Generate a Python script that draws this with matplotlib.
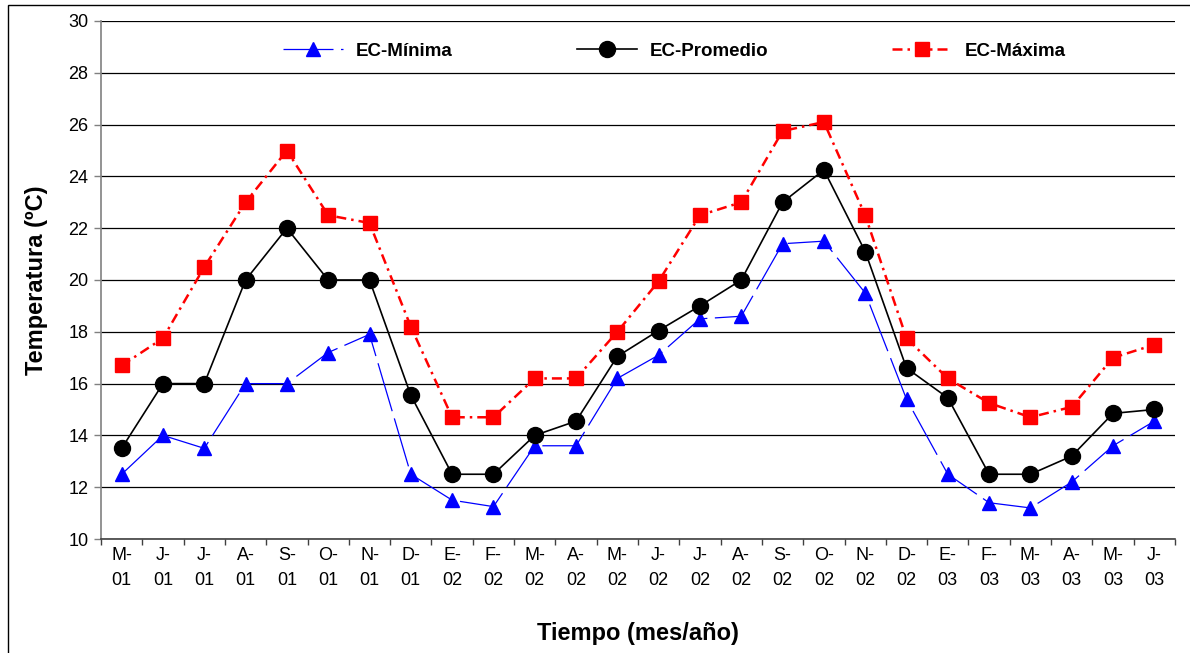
import numpy as np
import matplotlib.pyplot as plt
from matplotlib.patches import Rectangle

plt.rcParams['font.family'] = ['Liberation Sans', 'DejaVu Sans']

# month/year labels
meses = ['M-\n01', 'J-\n01', 'J-\n01', 'A-\n01', 'S-\n01', 'O-\n01', 'N-\n01', 'D-\n01',
         'E-\n02', 'F-\n02', 'M-\n02', 'A-\n02', 'M-\n02', 'J-\n02', 'J-\n02', 'A-\n02',
         'S-\n02', 'O-\n02', 'N-\n02', 'D-\n02', 'E-\n03', 'F-\n03', 'M-\n03', 'A-\n03',
         'M-\n03', 'J-\n03']

ec_min = [12.5, 14.0, 13.5, 16.0, 16.0, 17.2, 17.9, 12.5, 11.5, 11.25, 13.6, 13.6, 16.2,
          17.1, 18.5, 18.6, 21.4, 21.5, 19.5, 15.4, 12.5, 11.4, 11.2, 12.2, 13.6, 14.55]
ec_prom = [13.5, 16.0, 16.0, 20.0, 22.0, 20.0, 20.0, 15.55, 12.5, 12.5, 14.0, 14.55, 17.05,
           18.05, 19.0, 20.0, 23.0, 24.25, 21.1, 16.6, 15.45, 12.5, 12.5, 13.2, 14.85, 15.0]
ec_max = [16.7, 17.75, 20.5, 23.0, 25.0, 22.5, 22.2, 18.2, 14.7, 14.7, 16.2, 16.2, 18.0,
          19.95, 22.5, 23.0, 25.75, 26.1, 22.5, 17.75, 16.2, 15.25, 14.7, 15.1, 17.0, 17.5]

x = np.arange(len(meses))

fig = plt.figure(figsize=(11.9, 6.53), dpi=100)
ax = fig.add_axes([101/1190, 1 - 539/653, 1074/1190, 518/653])

# outer frame of the chart area
fig.patches.append(Rectangle((8/1190, -0.05), 1.1, 1 - 5/653 + 0.05, transform=fig.transFigure,
                             fill=False, edgecolor='black', linewidth=1.0))

ax.plot(x, ec_min, color='#0000ff', linewidth=0.9, dashes=(40, 6), marker='^',
        markersize=9.5, markerfacecolor='#0000ff', markeredgecolor='#0000ff', label='EC-Mínima')
ax.plot(x, ec_prom, color='black', linewidth=1.2, marker='o', markersize=11.5,
        markerfacecolor='black', label='EC-Promedio')
ax.plot(x, ec_max, color='#ff0000', linewidth=1.8, dashes=(4, 2, 1, 2), marker='s',
        markersize=10, markerfacecolor='#ff0000', markeredgecolor='#ff0000', label='EC-Máxima')

ax.set_ylim(10, 30)
ax.set_xlim(-0.5, len(meses) - 0.5)
ax.set_yticks(np.arange(10, 31, 2))
ax.yaxis.grid(True, color='black', linewidth=0.9)
ax.set_axisbelow(True)

ax.set_xticks(x)
ax.set_xticklabels(meses, fontsize=13, linespacing=1.6)
ax.set_xticks(np.arange(-0.5, len(meses), 1), minor=True)
ax.tick_params(axis='x', which='major', length=0, pad=6)
ax.tick_params(axis='x', which='minor', length=4, color='#404040', width=1)
ax.tick_params(axis='y', length=5, color='#808080', width=1, labelsize=13, pad=4)

for s in ['top', 'right']:
    ax.spines[s].set_visible(False)
ax.spines['left'].set_color('#808080')
ax.spines['left'].set_linewidth(1.2)
ax.spines['bottom'].set_color('#404040')
ax.spines['bottom'].set_linewidth(1.2)

ax.set_ylabel('Temperatura (ºC)', fontsize=17, fontweight='bold', labelpad=15)
ax.set_xlabel('Tiempo (mes/año)', fontsize=17, fontweight='bold', labelpad=24)

ax.legend(loc='center', bbox_to_anchor=(0.534, 0.942), ncol=3, frameon=False,
          prop={'weight': 'bold', 'size': 13.5}, handlelength=3.2, columnspacing=6.6,
          handletextpad=0.7)

fig.savefig('out.png', dpi=100)
